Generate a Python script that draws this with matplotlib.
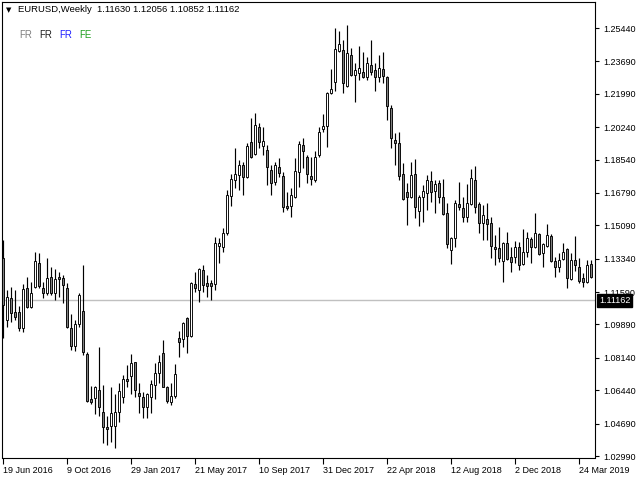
import numpy as np
import pandas as pd
import matplotlib
matplotlib.use("Agg")
from matplotlib import pyplot as plt

plt.rcParams['font.family'] = ['Liberation Sans', 'DejaVu Sans']

# weekly EURUSD bars, first bar = week of 19 Jun 2016
opens = [
    1.1338, 1.1013, 1.1128, 1.1054, 1.1054, 1.0971, 1.1180, 1.1080, 1.1186, 1.1311,
    1.1180, 1.1154, 1.1238, 1.1154, 1.1238, 1.1233, 1.1180, 1.0971, 1.0876, 1.0992,
    1.1060, 1.0834, 1.0598, 1.0603, 1.0645, 1.0530, 1.0451, 1.0456, 1.0456, 1.0530,
    1.0608, 1.0703, 1.0718, 1.0792, 1.0630, 1.0608, 1.0556, 1.0608, 1.0672, 1.0734,
    1.0839, 1.0661, 1.0582, 1.0614, 1.0918, 1.0913, 1.1023, 1.0929, 1.1201, 1.1170,
    1.1275, 1.1207, 1.1207, 1.1201, 1.1401, 1.1395, 1.1469, 1.1663, 1.1747, 1.1773,
    1.1826, 1.1763, 1.1946, 1.1883, 1.2025, 1.1925, 1.1904, 1.1799, 1.1736, 1.1815,
    1.1768, 1.1610, 1.1610, 1.1658, 1.1789, 1.1930, 1.1867, 1.1768, 1.1747, 1.1878,
    1.2014, 1.2030, 1.2203, 1.2261, 1.2423, 1.2429, 1.2240, 1.2402, 1.2297, 1.2308,
    1.2313, 1.2287, 1.2350, 1.2324, 1.2287, 1.2329, 1.2287, 1.2124, 1.1957, 1.1941,
    1.1778, 1.1684, 1.1658, 1.1778, 1.1584, 1.1658, 1.1679, 1.1742, 1.1689, 1.1731,
    1.1658, 1.1574, 1.1380, 1.1443, 1.1621, 1.1600, 1.1553, 1.1621, 1.1747, 1.1621,
    1.1521, 1.1542, 1.1521, 1.1395, 1.1390, 1.1322, 1.1416, 1.1343, 1.1343, 1.1395,
    1.1306, 1.1369, 1.1437, 1.1395, 1.1464, 1.1364, 1.1401, 1.1453, 1.1322, 1.1290,
    1.1332, 1.1385, 1.1228, 1.1327, 1.1290, 1.1233, 1.1212, 1.1306,
]
highs = [
    1.1432, 1.1170, 1.1186, 1.1170, 1.1086, 1.1201, 1.1238, 1.1212, 1.1369, 1.1364,
    1.1212, 1.1338, 1.1291, 1.1280, 1.1264, 1.1249, 1.1207, 1.1044, 1.1013, 1.1154,
    1.1301, 1.0845, 1.0666, 1.0666, 1.0871, 1.0672, 1.0508, 1.0661, 1.0624, 1.0682,
    1.0724, 1.0776, 1.0834, 1.0792, 1.0682, 1.0635, 1.0630, 1.0698, 1.0787, 1.0829,
    1.0908, 1.0666, 1.0682, 1.0782, 1.0955, 1.1002, 1.1030, 1.1212, 1.1264, 1.1285,
    1.1301, 1.1249, 1.1222, 1.1448, 1.1443, 1.1495, 1.1694, 1.1778, 1.1915, 1.1852,
    1.1841, 1.1941, 1.2072, 1.2098, 1.2046, 1.2025, 1.1930, 1.1826, 1.1841, 1.1862,
    1.1789, 1.1684, 1.1705, 1.1862, 1.1951, 1.1967, 1.1878, 1.1867, 1.1899, 1.2025,
    1.2093, 1.2208, 1.2329, 1.2544, 1.2528, 1.2481, 1.2560, 1.2439, 1.2360, 1.2450,
    1.2418, 1.2392, 1.2481, 1.2360, 1.2402, 1.2418, 1.2290, 1.2140, 1.1993, 1.1999,
    1.1836, 1.1731, 1.1841, 1.1857, 1.1668, 1.1721, 1.1773, 1.1794, 1.1747, 1.1747,
    1.1752, 1.1626, 1.1448, 1.1642, 1.1736, 1.1658, 1.1726, 1.1805, 1.1820, 1.1631,
    1.1616, 1.1626, 1.1553, 1.1458, 1.1500, 1.1421, 1.1474, 1.1395, 1.1427, 1.1421,
    1.1490, 1.1474, 1.1448, 1.1574, 1.1469, 1.1416, 1.1516, 1.1464, 1.1343, 1.1364,
    1.1416, 1.1390, 1.1364, 1.1453, 1.1338, 1.1259, 1.1327, 1.1327,
]
lows = [
    1.0918, 1.0976, 1.1002, 1.1013, 1.0955, 1.0950, 1.1075, 1.1075, 1.1180, 1.1180,
    1.1128, 1.1144, 1.1144, 1.1117, 1.1133, 1.1102, 1.0971, 1.0855, 1.0850, 1.0976,
    1.0829, 1.0582, 1.0571, 1.0519, 1.0508, 1.0367, 1.0356, 1.0372, 1.0341, 1.0477,
    1.0577, 1.0661, 1.0624, 1.0608, 1.0524, 1.0498, 1.0498, 1.0524, 1.0598, 1.0682,
    1.0661, 1.0577, 1.0567, 1.0603, 1.0818, 1.0871, 1.0839, 1.0923, 1.1160, 1.1107,
    1.1160, 1.1133, 1.1117, 1.1170, 1.1311, 1.1369, 1.1458, 1.1610, 1.1705, 1.1694,
    1.1668, 1.1757, 1.1862, 1.1878, 1.1915, 1.1878, 1.1721, 1.1668, 1.1721, 1.1763,
    1.1579, 1.1589, 1.1553, 1.1652, 1.1710, 1.1810, 1.1731, 1.1721, 1.1736, 1.1867,
    1.1999, 1.1920, 1.2198, 1.2214, 1.2418, 1.2203, 1.2235, 1.2290, 1.2156, 1.2271,
    1.2280, 1.2271, 1.2297, 1.2214, 1.2261, 1.2256, 1.2062, 1.1915, 1.1825, 1.1747,
    1.1642, 1.1511, 1.1652, 1.1548, 1.1506, 1.1527, 1.1589, 1.1631, 1.1574, 1.1626,
    1.1563, 1.1390, 1.1306, 1.1395, 1.1589, 1.1527, 1.1527, 1.1616, 1.1574, 1.1469,
    1.1432, 1.1432, 1.1338, 1.1301, 1.1317, 1.1212, 1.1327, 1.1264, 1.1311, 1.1275,
    1.1301, 1.1343, 1.1311, 1.1390, 1.1353, 1.1290, 1.1395, 1.1317, 1.1238, 1.1264,
    1.1327, 1.1180, 1.1222, 1.1269, 1.1207, 1.1186, 1.1207, 1.1233,
]
closes = [
    1.1091, 1.1133, 1.1049, 1.1028, 1.0971, 1.1175, 1.1080, 1.1154, 1.1322, 1.1191,
    1.1154, 1.1233, 1.1154, 1.1228, 1.1228, 1.1196, 1.0976, 1.0876, 1.0992, 1.1144,
    1.0845, 1.0587, 1.0582, 1.0661, 1.0556, 1.0451, 1.0441, 1.0524, 1.0530, 1.0640,
    1.0703, 1.0692, 1.0787, 1.0645, 1.0614, 1.0556, 1.0624, 1.0677, 1.0734, 1.0792,
    1.0661, 1.0587, 1.0614, 1.0729, 1.0897, 1.0997, 1.0929, 1.1207, 1.1180, 1.1280,
    1.1196, 1.1191, 1.1191, 1.1416, 1.1416, 1.1469, 1.1668, 1.1752, 1.1778, 1.1826,
    1.1763, 1.1925, 1.1867, 1.2035, 1.1946, 1.1951, 1.1815, 1.1731, 1.1826, 1.1784,
    1.1605, 1.1600, 1.1668, 1.1794, 1.1936, 1.1899, 1.1778, 1.1752, 1.1867, 1.1999,
    1.2030, 1.2203, 1.2224, 1.2434, 1.2460, 1.2256, 1.2413, 1.2297, 1.2324, 1.2334,
    1.2287, 1.2360, 1.2313, 1.2287, 1.2334, 1.2292, 1.2135, 1.1967, 1.1941, 1.1768,
    1.1647, 1.1658, 1.1773, 1.1605, 1.1658, 1.1689, 1.1747, 1.1684, 1.1726, 1.1658,
    1.1568, 1.1411, 1.1443, 1.1626, 1.1605, 1.1553, 1.1626, 1.1757, 1.1605, 1.1521,
    1.1563, 1.1516, 1.1401, 1.1385, 1.1338, 1.1416, 1.1332, 1.1317, 1.1395, 1.1301,
    1.1369, 1.1443, 1.1395, 1.1469, 1.1358, 1.1411, 1.1458, 1.1322, 1.1290, 1.1327,
    1.1369, 1.1233, 1.1327, 1.1301, 1.1217, 1.1212, 1.1301, 1.1238,
]

price_ticks = [1.25440, 1.23690, 1.21990, 1.20240, 1.18540, 1.16790, 1.15090,
               1.13340, 1.11590, 1.09890, 1.08140, 1.06440, 1.04690, 1.02990]
last_price = 1.11162
header = "EURUSD,Weekly  1.11630 1.12056 1.10852 1.11162"

dates = pd.date_range("2016-06-19", periods=len(opens), freq="7D")
x = np.arange(len(opens))
o = np.array(opens)
h = np.array(highs)
l = np.array(lows)
c = np.array(closes)

fig = plt.figure(figsize=(6.4, 4.8), dpi=100)
W, H = 640.0, 480.0
ax = fig.add_axes([2 / W, 1 - 457.5 / H, 593 / W, 455.5 / H])

# y scale: 1px = 0.0005245
ax.set_ylim(1.26909 - 0.0005245 * 457.5, 1.26909 - 0.0005245 * 2)
ax.set_xlim(-0.25, 148)

ax.axhline(last_price, color="#c0c0c0", lw=1, zorder=1)

ax.vlines(x, l, h, color="black", lw=0.85, zorder=2)
up = c >= o
fill = np.where(up, "white", "#808080")
body_lo = np.minimum(o, c)
body_h = np.maximum(np.abs(c - o), 0.00005)
ax.bar(x, body_h, bottom=body_lo, width=0.5, color=fill, edgecolor="black",
       linewidth=0.65, zorder=3)

for s in ax.spines.values():
    s.set_linewidth(0.8)
    s.set_color("black")

ax.yaxis.tick_right()
ax.set_yticks(price_ticks)
ax.set_yticklabels(["%.5f" % p for p in price_ticks])
ax.tick_params(axis="y", labelsize=6.5, length=3, width=0.8, pad=3)

xt = x[::16]
ax.set_xticks(xt)
ax.set_xticklabels([f"{d.day} {d.strftime('%b %Y')}" for d in dates[::16]], ha="left")
ax.tick_params(axis="x", labelsize=6.5, length=4, width=0.8, pad=2)

ax.annotate("%.5f" % last_price, xy=(1, last_price),
            xycoords=ax.get_yaxis_transform(), xytext=(3, 0),
            textcoords="offset points", ha="left", va="center",
            fontsize=6.5, color="white", annotation_clip=False, zorder=5,
            bbox=dict(boxstyle="square,pad=0.2", fc="black", ec="black"))

fig.text(6 / W, 1 - 10 / H, "\u25bc", fontsize=5, va="center", family="DejaVu Sans")
fig.text(18 / W, 1 - 10 / H, header, fontsize=6.8, va="center")

fr_colors = ["#808080", "#202020", "#2020ff", "#20a020"]
fr_text = ["FR", "FR", "FR", "FE"]
for k in range(4):
    fig.text((19 + 20 * k) / W, 1 - 35 / H, fr_text[k], fontsize=7,
             va="center", color=fr_colors[k])

fig.savefig("out.png", dpi=100)
